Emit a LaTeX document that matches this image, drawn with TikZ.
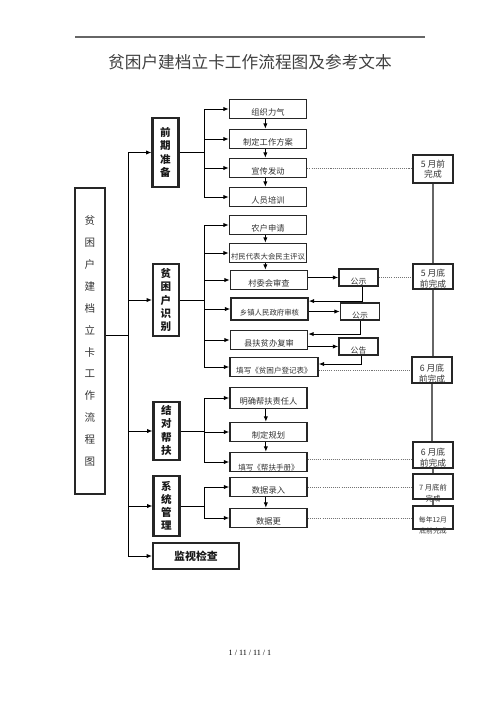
\documentclass[tikz,border=0pt]{standalone}
\usepackage{fontspec}
\setmainfont{Noto Sans CJK SC}
\newfontfamily\pagefont{Liberation Serif}
\usetikzlibrary{arrows.meta}
\newcommand{\dn}[2]{\raisebox{#1}[0pt][0pt]{\begin{tabular}[c]{@{}c@{}}#2\end{tabular}}}

\begin{document}
\begin{tikzpicture}[x=0.02cm, y=-0.02cm,
    box/.style={draw=black!85, line width=0.9pt, inner sep=0pt, text=black!80},
    substep/.style={box, minimum width=1.54cm, minimum height=0.38cm, text height=7pt, text depth=0pt, font=\fontsize{4.7}{5}\selectfont},
    phase/.style={box, line width=1.2pt, minimum width=0.52cm, align=center, text=black!90, font=\bfseries\fontsize{6}{7.5}\selectfont},
    notice/.style={box, minimum width=0.78cm, minimum height=0.34cm, text height=8.4pt, text depth=0pt, font=\fontsize{4.5}{5}\selectfont},
    deadline/.style={box, minimum width=0.8cm, font=\fontsize{5}{6}\selectfont},
    arr/.style={-{Latex[length=3pt,width=2.4pt]}, line width=0.5pt},
    link/.style={line width=0.5pt},
    dotline/.style={black!55, line width=0.5pt, dash pattern=on 0.6pt off 0.6pt},
    timeline/.style={black!60, line width=0.8pt}]
\useasboundingbox (0,0) rectangle (500,707);
\draw[black!60, line width=0.6pt] (75,37) -- (425,37);
\node[text=black!75, font=\fontsize{9.5}{11}\selectfont] (title) at (250,62) {贫困户建档立卡工作流程图及参考文本};

\node[box, line width=1pt, minimum width=0.6cm, minimum height=6.12cm, align=center, font=\fontsize{6}{12.5}\selectfont] (main) at (90,341) {贫\\困\\户\\建\\档\\立\\卡\\工\\作\\流\\程\\图};

\node[phase, minimum height=1.38cm] (prep) at (165.5,152.5) {前\\期\\准\\备};
\node[phase, minimum height=1.44cm] (ident) at (166,300) {贫\\困\\户\\识\\别};
\node[phase, minimum height=1.16cm] (pair) at (166.5,431) {\dn{-2pt}{结\\对\\帮\\扶}};
\node[phase, minimum height=1.2cm] (sys) at (166.5,506) {系\\统\\管\\理};
\node[phase, minimum width=1.72cm, minimum height=0.52cm, font=\bfseries\fontsize{6.2}{7}\selectfont] (check) at (196,556) {监视检查};

\node[substep] (p1) at (268,109) {组织力气};
\node[substep] (p2) at (268,139) {制定工作方案};
\node[substep] (p3) at (268,168) {宣传发动};
\node[substep] (p4) at (268,197) {人员培训};
\node[substep] (i1) at (268,225) {农户申请};
\node[substep, font=\fontsize{4.2}{5}\selectfont] (i2) at (268,253) {村民代表大会民主评议};
\node[substep] (i3) at (269,280) {村委会审查};
\node[substep, minimum height=0.44cm, font=\fontsize{4.2}{5}\selectfont] (i4) at (269.5,309) {乡镇人民政府审核};
\node[substep] (i5) at (269,340) {县扶贫办复审};
\node[substep, minimum width=1.76cm, font=\fontsize{4.3}{5}\selectfont] (i6) at (274,367) {填写《贫困户登记表》};
\node[substep, minimum height=0.42cm] (f1) at (268.5,398) {明确帮扶责任人};
\node[substep] (f2) at (268.5,432) {制定规划};
\node[substep, text height=10pt, font=\fontsize{4.3}{5}\selectfont] (f3) at (268.5,462) {填写《帮扶手册》};
\node[substep] (s1) at (268.5,487) {数据录入};
\node[substep] (s2) at (268.5,518) {数据更};

\node[notice] (n1) at (358.5,277.5) {公示};
\node[notice] (n2) at (360,311.5) {公示};
\node[notice] (n3) at (358.5,346.5) {公告};

\node[deadline, minimum height=0.56cm] (t1) at (433,169) {\dn{-2pt}{5~月前\\完成}};
\node[deadline, minimum height=0.5cm] (t2) at (433,276.5) {\dn{-3pt}{5~月底\\前完成}};
\node[deadline, minimum height=0.52cm] (t3) at (432,370) {\dn{-4pt}{6~月底\\前完成}};
\node[deadline, minimum height=0.52cm] (t4) at (433,455) {\dn{-3.4pt}{6~月底\\前完成}};
\node[deadline, minimum height=0.5cm, font=\fontsize{4.2}{6}\selectfont] (t5) at (433,486.5) {\dn{-5.5pt}{7~月底前\\完成}};
\node[deadline, minimum height=0.46cm, font=\fontsize{3.9}{6.2}\selectfont] (t6) at (433,517.5) {\dn{-6.2pt}{每年12月\\底前完成}};

\coordinate (bus) at (128,0);
\coordinate (fork) at (204,0);

\draw[link] ([yshift=3pt]main.east) -- ([yshift=3pt]main.east -| bus);
\draw[link] (bus |- prep.west) -- (bus |- check.west);
\foreach \g in {prep,ident,pair,sys,check}
  \draw[arr] (bus |- \g.west) -- (\g.west);

\draw[link] (prep.east) -- (prep.east -| fork);
\draw[link] (fork |- p1.west) -- (fork |- p4.west);
\foreach \s in {p1,p2,p3,p4}
  \draw[arr] (fork |- \s.west) -- (\s.west);

\draw[link] (ident.east) -- (ident.east -| fork);
\draw[link] (fork |- i1.west) -- (fork |- i6.west);
\foreach \s in {i1,i2,i3,i4,i5,i6}
  \draw[arr] (fork |- \s.west) -- (\s.west);

\draw[link] (pair.east) -- (pair.east -| fork);
\draw[link] (fork |- f1.west) -- (fork |- f3.west);
\foreach \s in {f1,f2,f3}
  \draw[arr] (fork |- \s.west) -- (\s.west);

\draw[link] (sys.east) -- (sys.east -| fork);
\draw[link] (fork |- s1.west) -- (fork |- s2.west);
\foreach \s in {s1,s2}
  \draw[arr] (fork |- \s.west) -- (\s.west);

\foreach \a/\b in {p1/p2,p2/p3,p3/p4,i1/i2,i2/i3,f1/f2,f2/f3,s1/s2}
  \draw[arr] ([xshift=-1.5pt]\a.south) -- ([xshift=-1.5pt]\a.south |- \b.north);

\draw[arr] (i3.east |- n1.west) -- (n1.west);
\draw[arr] ([xshift=2pt]n1.south) |- ([yshift=4.5pt]i4.east);
\draw[arr] (i4.east |- n2.west) -- (n2.west);
\draw[arr] (n2.south) |- ([yshift=3.4pt]i5.east);
\draw[arr] (i5.east |- n3.west) -- (n3.west);
\draw[arr] ([xshift=1.5pt]n3.south) |- ([yshift=1.7pt]i6.east);

\draw[dotline] (p3.east) -- (p3.east -| t1.west);
\draw[dotline] (n1.east) -- (n1.east -| t2.west);
\draw[dotline] ([yshift=-2pt]i6.east) -- ([yshift=-2pt]i6.east -| t3.west);
\draw[dotline] ([yshift=1.7pt]f3.east) -- ([yshift=1.7pt]f3.east -| t4.west);
\draw[dotline] (s1.east) -- (s1.east -| t5.west);
\draw[dotline] (s2.east) -- (s2.east -| t6.west);

\foreach \a/\b in {t1/t2,t2/t3,t3/t4,t4/t5,t5/t6}
  \draw[timeline] (\a.south) -- (\a.south |- \b.north);

\node[font=\pagefont\fontsize{4.6}{5}\selectfont] (page) at (250,653) {1 / 11 / 11 / 1};
\end{tikzpicture}
\end{document}
